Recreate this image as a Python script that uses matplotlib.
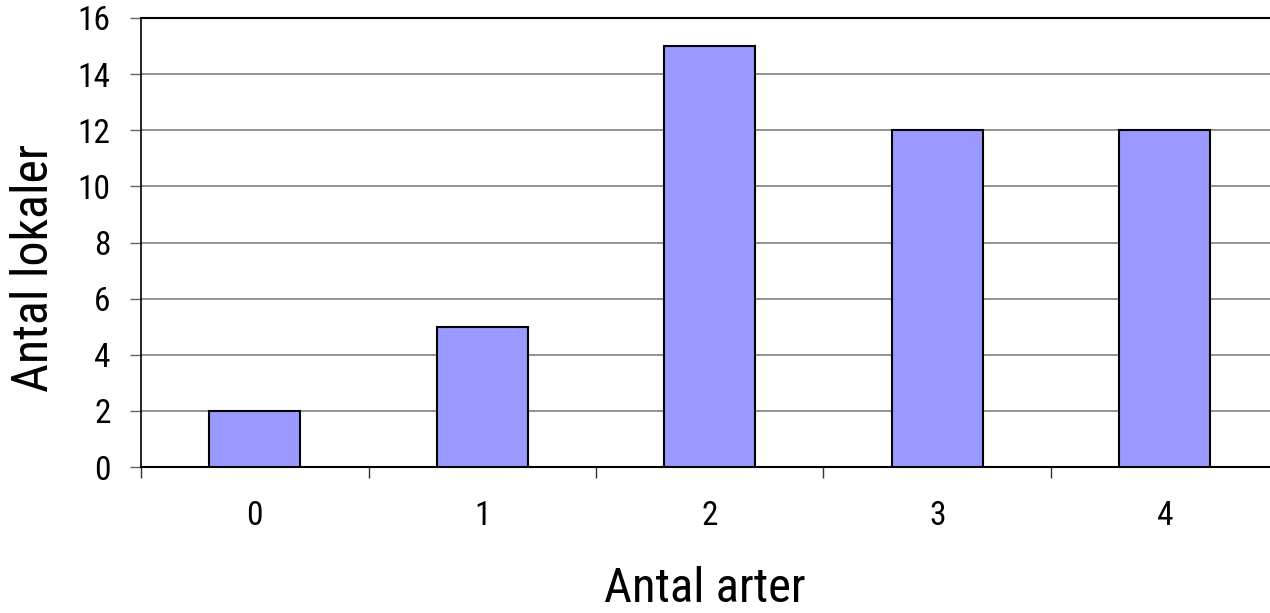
import matplotlib.pyplot as plt
from matplotlib import font_manager

# data
categories = ['0', '1', '2', '3', '4']
values = [2, 5, 15, 12, 12]
yticks = [0, 2, 4, 6, 8, 10, 12, 14, 16]
xlabel = 'Antal arter'
ylabel = 'Antal lokaler'

#narrow font, like Arial Narrow
names = {f.name for f in font_manager.fontManager.ttflist}
prefs = ['Liberation Sans Narrow', 'Arial Narrow', 'Roboto Condensed', 'Archivo Narrow', 'Liberation Sans']
fam = [f for f in prefs if f in names][:1] + ['DejaVu Sans']
plt.rc('font', family=fam)

fig = plt.figure(figsize=[12.7, 6.13], dpi=100)
# plot area runs a bit past the right edge, as in the original
ax = fig.add_axes([141/1270, 1-467/613, 1137.5/1270, (467-18)/613])

x = list(range(len(categories)))
ax.bar(x, values, width=0.4, color='#9999ff', edgecolor='black', linewidth=1.5, zorder=3)

ax.set_xlim(-0.5, len(categories)-0.5)
ax.set_ylim(0, 16)
ax.set_yticks(yticks)
ax.set_yticklabels([str(v) for v in yticks], fontsize=24)
ax.yaxis.grid(True, color='#808080', linewidth=1.2, zorder=0)

#ticks at category boundaries, labels centred
ax.set_xticks([i-0.5 for i in range(len(categories)+1)])
ax.set_xticklabels([])
ax.set_xticks(x, minor=True)
ax.set_xticklabels(categories, minor=True, fontsize=24)
ax.tick_params(axis='x', which='minor', length=0, pad=24)
ax.tick_params(axis='x', which='major', length=8, width=1, color='#333333')
ax.tick_params(axis='y', length=8, width=1, pad=14, color='#666666')

ax.spines['right'].set_visible(False)
ax.spines['top'].set_linewidth(1.5)
ax.spines['left'].set_linewidth(1.2)
ax.spines['bottom'].set_linewidth(1.5)

ax.set_ylabel(ylabel, fontsize=36)
ax.yaxis.set_label_coords(-0.073, 0.443)
ax.set_xlabel(xlabel, fontsize=35)
ax.xaxis.set_label_coords(0.496, -0.2205)

fig.savefig('out.png', dpi=100)
